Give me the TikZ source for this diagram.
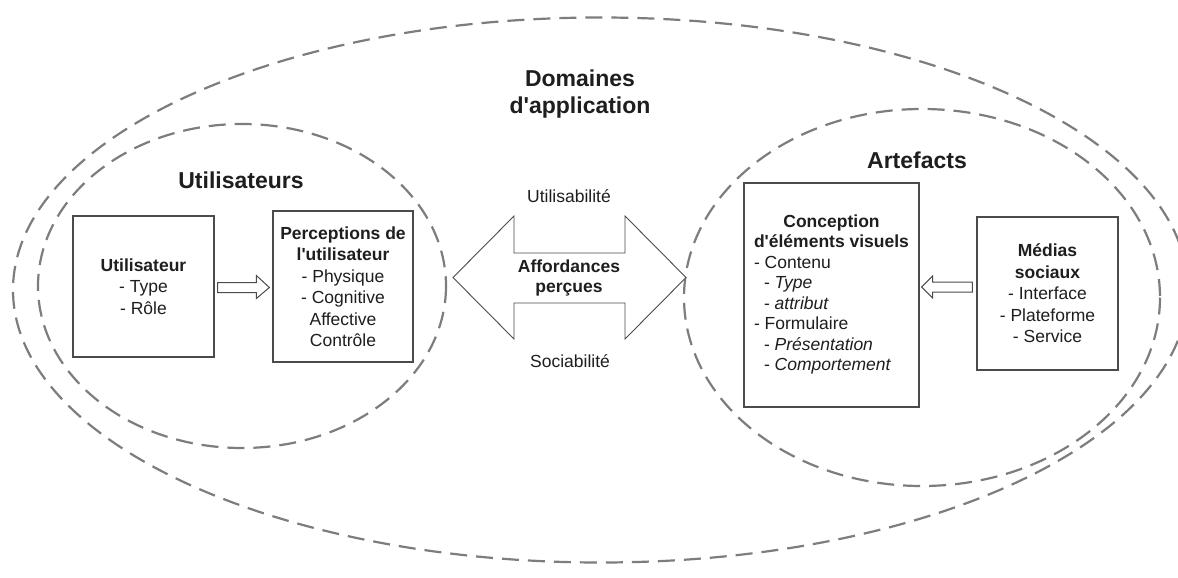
\documentclass[tikz,border=0pt]{standalone}
\usepackage{fontspec}
\setmainfont{Liberation Sans}
\usetikzlibrary{calc}
\definecolor{dashgray}{RGB}{125,125,125}
\definecolor{boxgray}{RGB}{75,75,75}
\definecolor{txt}{RGB}{30,30,30}
\newcommand\myBody{\fontsize{17.5}{21.5}\selectfont}
\newcommand\myTitle{\fontsize{23}{26}\selectfont\bfseries}
\begin{document}
\begin{tikzpicture}[x=1pt,y=-1pt,
  every node/.style={text=txt},
  dashring/.style={draw=dashgray, line width=2.2pt, dash pattern=on 17pt off 9pt},
  box/.style={draw=boxgray, line width=1.3pt, fill=white, inner sep=2pt, align=center, font=\myBody},
  title/.style={font=\myTitle, anchor=base},
  lbl/.style={font=\myBody, anchor=base},
  hollow/.style={draw=boxgray, line width=1pt, fill=white, line join=miter},
]
\fill[white] (0,0) rectangle (1178,578);
\useasboundingbox (0,0) rectangle (1178,578);

% rings
\begin{scope}
\clip (0,0) rectangle (1178,578);
\draw[dashring] (600.5,290) ellipse [x radius=587.5, y radius=272.5];
\end{scope}
\draw[dashring] (242,286) ellipse [x radius=204, y radius=162];
\draw[dashring] (922,297.5) ellipse [x radius=238, y radius=188.5];

% titles
\node[title] (dom1) at (580,87) {Domaines};
\node[title] (dom2) at (580,113) {d\textquotesingle application};
\node[title] (usr) at (241,188) {Utilisateurs};
\node[title] (art) at (917,168) {Artefacts};

% boxes
\node[box, minimum width=141, minimum height=141] (u) at (143.5,286.5)
  {\textbf{Utilisateur}\\- Type\\- Rôle};
\node[box, minimum width=140, minimum height=151] (p) at (343,286.5)
  {\textbf{Perceptions de}\\\textbf{l\textquotesingle utilisateur}\\- Physique\\- Cognitive\\Affective\\Contrôle};
\node[box, minimum width=175, minimum height=224] (c) at (831.5,295)
  {\fontsize{17.5}{20.5}\selectfont
   \begin{tabular}{@{}l@{}}
   \multicolumn{1}{@{}c@{}}{\textbf{Conception}}\\
   \multicolumn{1}{@{}c@{}}{\textbf{d\textquotesingle éléments visuels}}\\
   - Contenu\\
   \hspace{10pt}- \textit{Type}\\
   \hspace{10pt}- \textit{attribut}\\
   - Formulaire\\
   \hspace{10pt}- \textit{Présentation}\\
   \hspace{10pt}- \textit{Comportement}
   \end{tabular}};
\node[box, minimum width=141, minimum height=153] (m) at (1047.5,293.5)
  {\textbf{Médias}\\\textbf{sociaux}\\- Interface\\- Plateforme\\- Service};

% small hollow arrows
\draw[hollow] ($(u.east)+(3,-4)$) -- ($(p.west)+(-16,-4)$) -- ($(p.west)+(-16,-11)$)
  -- ($(p.west)+(-3,1)$) -- ($(p.west)+(-16,12)$) -- ($(p.west)+(-16,6)$)
  -- ($(u.east)+(3,6)$) -- cycle;
\draw[hollow] ($(m.west)+(-4,-11.5)$) -- ($(c.east)+(13,-13)$) -- ($(c.east)+(13,-19)$)
  -- ($(c.east)+(2,-8)$) -- ($(c.east)+(13,3)$) -- ($(c.east)+(13,-3)$)
  -- ($(m.west)+(-4,-1.5)$) -- cycle;

% big double arrow
\draw[draw=boxgray, line width=0.9pt, fill=white]
  (453,277.5) -- (514,216) -- (514,253) -- (625,253) -- (625,216) -- (686,277.5)
  -- (625,339) -- (625,303) -- (514,303) -- (514,339) -- cycle;
\node[lbl, font=\myBody\bfseries] (aff1) at (569,272) {Affordances};
\node[lbl, font=\myBody\bfseries] (aff2) at (569,292) {perçues};
\node[lbl] (utl) at (569,202) {Utilisabilité};
\node[lbl] (soc) at (570,367) {Sociabilité};
\end{tikzpicture}
\end{document}
